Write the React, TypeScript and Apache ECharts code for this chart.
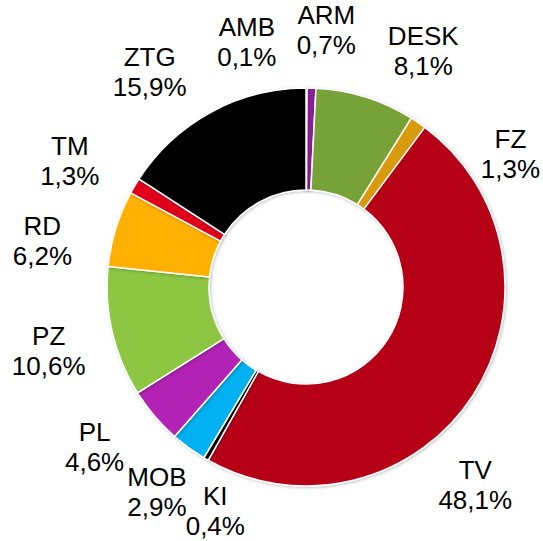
import React, { useEffect, useRef } from "react";
import * as echarts from "echarts";

const categories = ["AMB", "ARM", "DESK", "FZ", "TV", "KI", "MOB", "PL", "PZ", "RD", "TM", "ZTG"];
const shares = [0.1, 0.7, 8.1, 1.3, 48.1, 0.4, 2.9, 4.6, 10.6, 6.2, 1.3, 15.9];
const colors = ["#f2f2f2", "#8e1e98", "#77a237", "#d99a0c", "#b50017", "#000000", "#00b0f0", "#b222b4", "#8dc641", "#ffb000", "#e0061b", "#000000"];
// label nudges (px) relative to the ring-midpoint placement
const labelNudges: [number, number][] = [
  [-60, 13], [13, 1], [40, 10], [59, 80], [-47, 57], [39, 1],
  [3, -3], [-15, -7], [-6, 5], [-17, 30], [-14, 5], [-33, 12],
];

const fmt = (v: number) => v.toFixed(1).replace(".", ",") + "%";

export default function App() {
  const ref = useRef<HTMLDivElement>(null);
  useEffect(() => {
    if (!ref.current) return;
    const chart = echarts.init(ref.current, undefined, { renderer: "svg" });
    const data = categories.map((name, i) => ({ name, value: shares[i], itemStyle: { color: colors[i] } }));
    chart.setOption({
      animation: false,
      backgroundColor: "#ffffff",
      series: [
        {
          type: "pie",
          center: [306, 287],
          radius: [97, 199],
          startAngle: 90,
          clockwise: true,
          silent: true,
          label: { show: false },
          labelLine: { show: false },
          itemStyle: {
            borderColor: "#ffffff",
            borderWidth: 1.5,
            shadowBlur: 3,
            shadowColor: "rgba(0,0,0,0.25)",
            shadowOffsetX: 1,
            shadowOffsetY: 1,
          },
          data,
        },
        {
          type: "pie",
          center: [306, 287],
          radius: [230, 280],
          startAngle: 90,
          clockwise: true,
          silent: true,
          itemStyle: { color: "transparent", borderWidth: 0 },
          labelLine: { show: false },
          label: {
            show: true,
            position: "inside",
            formatter: (p: any) => `${p.name}\n${fmt(p.value)}`,
            fontFamily: "'Liberation Sans', Arial, sans-serif",
            fontSize: 26,
            lineHeight: 30,
            color: "#000000",
            align: "center",
          },
          labelLayout: (p: any) => ({ dx: labelNudges[p.dataIndex][0], dy: labelNudges[p.dataIndex][1] }),
          data: categories.map((name, i) => ({ name, value: shares[i] })),
        },
      ],
    });
    return () => chart.dispose();
  }, []);
  return <div ref={ref} style={{ position: "fixed", left: 0, top: 0, width: 543, height: 541 }} />;
}
